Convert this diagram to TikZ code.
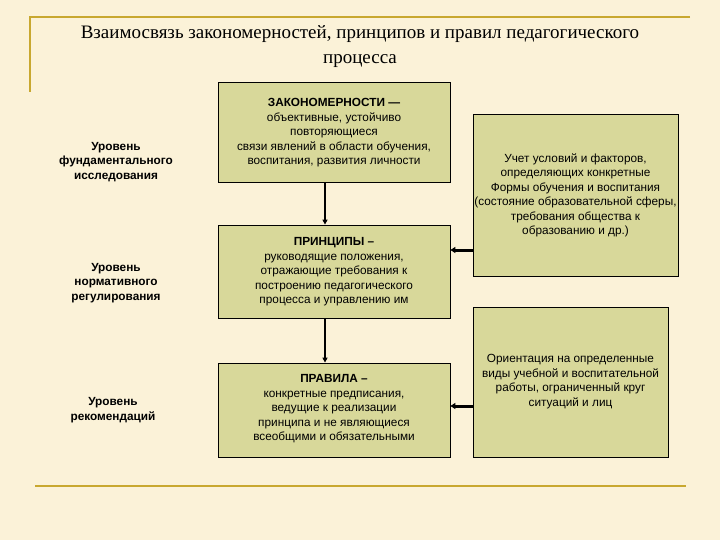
\documentclass[tikz,border=0pt]{standalone}
\usepackage{fontspec}
\setmainfont{Liberation Serif}
\newfontfamily\boxfont{Liberation Sans}
\usetikzlibrary{arrows.meta}
\definecolor{bg}{HTML}{FBF2D8}
\definecolor{boxfill}{HTML}{D8D89A}
\definecolor{gold}{HTML}{C8A830}
\tikzset{
  box/.style={draw=black, fill=boxfill, line width=0.8pt, align=center, font=\boxfont\fontsize{11.8}{14.5}\selectfont, inner sep=1pt},
  lvl/.style={align=center, font=\boxfont\bfseries\fontsize{11.8}{14.5}\selectfont},
  goldline/.style={draw=gold, line width=2.6pt},
  arr/.style={-{Triangle[length=5pt,width=5pt]}, line width=1.3pt},
  harr/.style={-{Triangle[length=5pt,width=6pt]}, line width=3pt}
}
\begin{document}
\begin{tikzpicture}[x=1pt,y=-1pt]
\fill[bg] (0,0) rectangle (720,540);
\useasboundingbox (0,0) rectangle (720,540);
\coordinate (tl) at (30,17); \coordinate (tr) at (690,17); \coordinate (vl) at (30,92);
\draw[goldline] (tr) -- (tl) -- (vl);
\coordinate (bl) at (35,486); \coordinate (br) at (686,486);
\draw[goldline] (bl) -- (br);
\node[font=\fontsize{19}{25}\selectfont, align=center] (title) at (360,47) {Взаимосвязь закономерностей, принципов и правил педагогического\\процесса};
\node[box, minimum width=232, minimum height=100] (z) at (334,132) {};
\node[box, draw=none, fill=none, anchor=north] (zt) at (334,97) {\textbf{ЗАКОНОМЕРНОСТИ —}\\объективные, устойчиво\\повторяющиеся\\связи явлений в области обучения,\\воспитания, развития личности};
\node[box, minimum width=232, minimum height=93] (p) at (334,271.5) {};
\node[box, draw=none, fill=none, anchor=north] (pt) at (334,236) {\textbf{ПРИНЦИПЫ –}\\руководящие положения,\\отражающие требования к\\построению педагогического\\процесса и управлению им};
\node[box, minimum width=232, minimum height=94] (r) at (334,410) {};
\node[box, draw=none, fill=none, anchor=north] (rt) at (334,373) {\textbf{ПРАВИЛА –}\\конкретные предписания,\\ведущие к реализации\\принципа и не являющиеся\\всеобщими и обязательными};
\node[box, minimum width=205, minimum height=162] (u) at (575.5,195) {};
\node[box, draw=none, fill=none, anchor=north] (ut) at (575.5,152) {Учет условий и факторов,\\определяющих конкретные\\Формы обучения и воспитания\\(состояние образовательной сферы,\\требования общества к\\образованию и др.)};
\node[box, minimum width=195, minimum height=150, anchor=north west] (o) at (473,307) {};
\node[box, draw=none, fill=none, anchor=north] (ot) at (570.5,353) {Ориентация на определенные\\виды учебной и воспитательной\\работы, ограниченный круг\\ситуаций и лиц};
\node[lvl] (l1) at (116,162) {Уровень\\фундаментального\\исследования};
\node[lvl] (l2) at (116,283) {Уровень\\нормативного\\регулирования};
\node[lvl] (l3) at (113,410) {Уровень\\рекомендаций};
\draw[arr] (z.south -| 325,0) -- (p.north -| 325,0);
\draw[arr] (p.south -| 325,0) -- (r.north -| 325,0);
\draw[harr] (u.west |- 0,250) -- (p.east |- 0,250);
\draw[harr] (o.west |- 0,406) -- (r.east |- 0,406);
\end{tikzpicture}
\end{document}
